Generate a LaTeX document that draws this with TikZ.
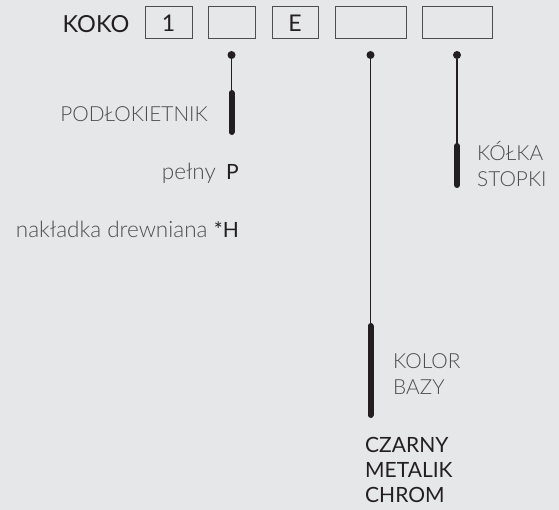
\documentclass[tikz,border=0pt]{standalone}
\usepackage{fontspec}
\setmainfont{Lato}
\newfontfamily\lightfont{Lato Light}
\definecolor{bg}{HTML}{E6E7E9}
\definecolor{ink}{HTML}{231F20}
\definecolor{soft}{HTML}{4D4D4F}
\tikzset{
  codebox/.style={draw=soft, line width=1pt, minimum height=32pt, inner sep=0pt, font=\fontsize{23}{26}\selectfont, text=ink},
  label/.style={font=\lightfont\fontsize{20.8}{26}\selectfont, text=soft, inner sep=0pt},
  small/.style={label, font=\lightfont\fontsize{22.5}{26}\selectfont},
  code/.style={font=\fontsize{21}{26}\selectfont, text=ink, inner sep=0pt},
  dot/.style={circle, fill=ink, inner sep=0pt, minimum size=8pt},
  pin/.style={ink, line width=1.2pt},
  bar/.style={ink, line width=6pt, line cap=round},
}

\begin{document}
\begin{tikzpicture}[x=1pt, y=-1pt]
        \fill[bg] (0,0) rectangle (559,510);
        \useasboundingbox (0,0) rectangle (559,510);

        \node [code, font=\fontsize{23.5}{28}\selectfont, anchor=base] (koko) at (96,33) {KOKO};
        \node [codebox, minimum width=47pt] (b1) at (168.5,23) {1};
        \node [codebox, minimum width=47pt] (b2) at (231.5,23) {};
        \node [codebox, minimum width=46pt] (b3) at (295,23) {E};
        \node [codebox, minimum width=71pt] (b4) at (370.5,23) {};
        \node [codebox, minimum width=70pt] (b5) at (457,23) {};

        \node [dot] (d2) at (231.5,55) {};
        \node [dot] (d4) at (370.5,55) {};
        \node [dot] (d5) at (457,55) {};

        \coordinate (t2) at (231.5,93);
        \coordinate (e2) at (231.5,132);
        \coordinate (t4) at (370.5,326);
        \coordinate (e4) at (370.5,415);
        \coordinate (t5) at (457,146);
        \coordinate (e5) at (457,185);

        \draw[pin] (d2) -- (t2);
        \draw[pin] (d4) -- (t4);
        \draw[pin] (d5) -- (t5);
        \draw[bar] (t2) -- (e2);
        \draw[bar] (t4) -- (e4);
        \draw[bar] (t5) -- (e5);

        % podlokietnik
        \node [label, anchor=base east] (arm) at (208,122) {PODŁOKIETNIK};
        \node [code, anchor=base east] (armP) at (239,180) {P};
        \node [small, anchor=base east] (armPl) at ([xshift=-10pt]armP.base west) {pełny};
        \node [code, anchor=base east] (armH) at (239,238) {*H};
        \node [small, anchor=base east] (armHl) at ([xshift=-6pt]armH.base west) {nakładka drewniana};

        % kolor bazy
        \node [label, anchor=base west] (col1) at (393,368) {KOLOR};
        \node [label, anchor=base west] (col2) at (393,394) {BAZY};
        \node [code, anchor=base west] (c1) at (365,452) {CZARNY};
        \node [code, anchor=base west] (c2) at (365,477) {METALIK};
        \node [code, anchor=base west] (c3) at (365,502) {CHROM};

        % kolka
        \node [label, anchor=base west] (w1) at (477,161) {KÓŁKA};
        \node [label, anchor=base west] (w2) at (477,187) {STOPKI};
      \end{tikzpicture}
\end{document}
